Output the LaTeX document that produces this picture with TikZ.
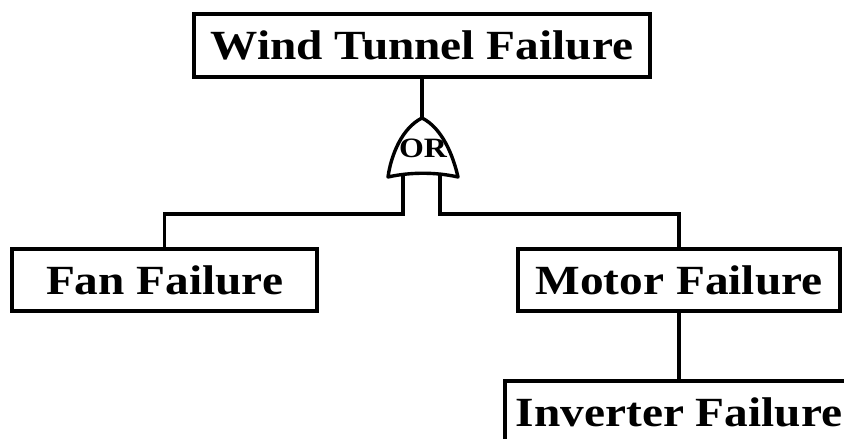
\documentclass[tikz,border=0pt]{standalone}
\usepackage{fontspec}
\setmainfont[FakeStretch=1.14]{Liberation Serif}
\begin{document}
\begin{tikzpicture}[x=1pt,y=-1pt,
  line width=3.4pt,
  event/.style={draw, rectangle, inner sep=0pt, minimum height=62pt,
    font=\fontsize{41.5}{41.5}\selectfont\bfseries, text depth=0pt},
  gatelabel/.style={font=\fontsize{28}{28}\selectfont\bfseries, inner sep=0pt}
]
\useasboundingbox (0,0) rectangle (844,439);
\clip (0,0) rectangle (844,439);
\node[event, minimum width=456pt, minimum height=63pt] (top) at (422,45.5) {Wind Tunnel Failure};
\node[event, minimum width=305pt] (fan) at (164.5,280) {Fan Failure};
\node[event, minimum width=322pt] (motor) at (679,280) {Motor Failure};
\node[event, minimum width=348pt] (inv) at (679,412) {Inverter Failure};
% OR gate
\coordinate (gtop) at (422,118);
\coordinate (gbl) at (388,177);
\coordinate (gbr) at (458,177);
\coordinate (gin1) at (403,174);
\coordinate (gin2) at (440,174);
\draw[line join=round] (gbl) .. controls (391,155) and (402,128) .. (gtop)
  .. controls (442,128) and (453,155) .. (gbr)
  .. controls (436,172) and (410,172) .. (gbl) -- cycle;
\node[gatelabel] (orlabel) at (423,148) {OR};
% connectors
\draw (top.south) -- (gtop);
\draw (gin1) -- ++(0,40) -| (fan.north);
\draw (gin2) -- ++(0,40) -| (motor.north);
\draw (motor.south) -- (inv.north);
\end{tikzpicture}
\end{document}
